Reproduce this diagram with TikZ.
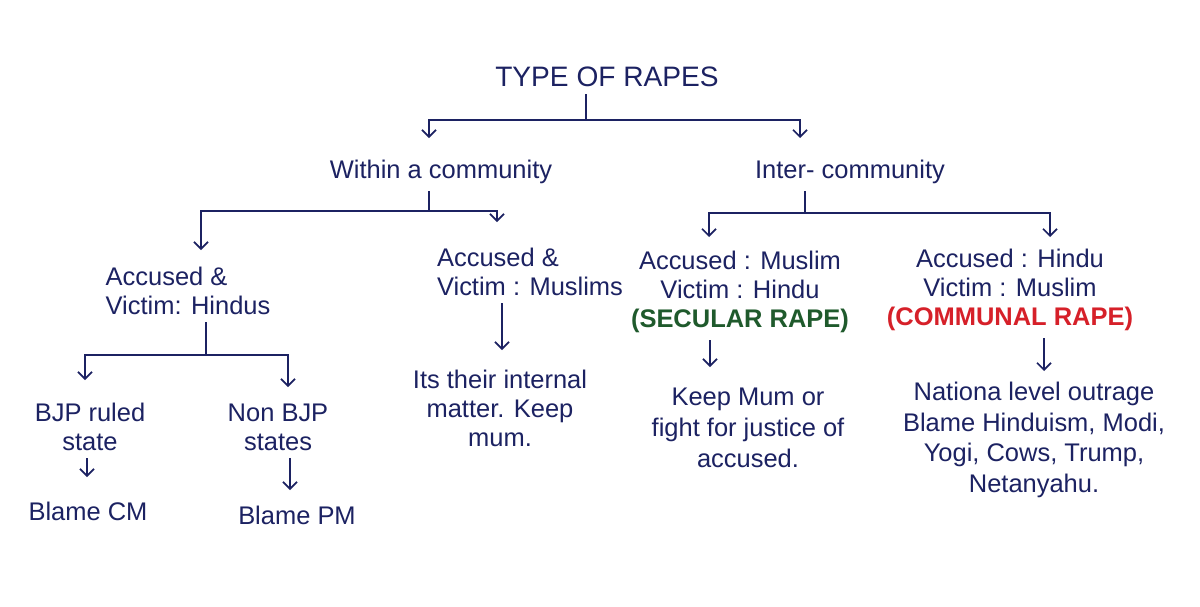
\documentclass[tikz,border=0pt]{standalone}
\usepackage{fontspec}
\setmainfont{Liberation Sans}
\usetikzlibrary{arrows.meta}
\definecolor{ink}{HTML}{1C2262}
\definecolor{secgreen}{HTML}{1F5A2C}
\definecolor{comred}{HTML}{D62029}
\tikzset{
  >={Straight Barb[length=1.4mm,width=2.8mm]},
  ttl/.style={text=ink,font=\fontsize{16}{19}\selectfont,inner sep=1pt},
  lbl/.style={text=ink,font=\fontsize{14.5}{16.5}\selectfont,align=center,inner sep=1pt},
  lbll/.style={lbl,align=left},
  lblw/.style={lbl,font=\fontsize{14.5}{17.5}\selectfont},
  br/.style={draw=ink,line width=1pt},
  arr/.style={br,->},
  stub/.style={br,shorten <=3pt},
}
\begin{document}
\begin{tikzpicture}[x=0.02cm,y=-0.02cm]
  \useasboundingbox[fill=white] (0,0) rectangle (1200,606);
  % labels
  \node[ttl] (type) at (607,77) {TYPE OF RAPES};
  \node[lbl] (within) at (441,172) {Within a community};
  \node[lbl] (inter) at (850,172) {Inter- community};
  \node[lbll] (hindus) at (188,291) {Accused \&\\Victim: Hindus};
  \node[lbll] (muslims) at (530,272) {Accused \&\\Victim : Muslims};
  \node[lbl] (bjp) at (90,427) {BJP ruled\\state};
  \node[lbl] (nonbjp) at (278,427) {Non BJP\\states};
  \node[lbl] (cm) at (88,511) {Blame CM};
  \node[lbl] (pm) at (297,515) {Blame PM};
  \node[lbl] (internal) at (500,408) {Its their internal\\matter. Keep\\mum.};
  \node[lbl] (secular) at (740,292) {Accused : Muslim\\Victim : Hindu\\
    \textcolor{secgreen}{\bfseries (SECULAR RAPE)}};
  \node[lbl] (communal) at (1010,290) {Accused : Hindu\\Victim : Muslim\\
    \textcolor{comred}{\bfseries (COMMUNAL RAPE)}};
  \node[lblw] (keepmum) at (748,428) {Keep Mum or\\fight for justice of\\accused.};
  \node[lblw] (outrage) at (1034,440) {Nationa level outrage\\Blame Hinduism, Modi,\\
    Yogi, Cows, Trump,\\Netanyahu.};
  % junctions and arrow tips
  \coordinate (j0) at (586,120);
  \coordinate (tw) at (429,138);
  \coordinate (ti) at (800,138);
  \coordinate (j1) at (429,211);
  \coordinate (th) at (201,250);
  \coordinate (tm) at (497,222);
  \coordinate (j2) at (805,213);
  \coordinate (tsec) at (709,237);
  \coordinate (tcom) at (1050,237);
  \coordinate (j3) at (206,355);
  \coordinate (tbjp) at (85,380);
  \coordinate (tnon) at (288,387);
  \coordinate (tmus) at (502,350);
  \coordinate (tcm) at (87,477);
  \coordinate (tpm) at (290,490);
  \coordinate (tkeep) at (710,367);
  \coordinate (tout) at (1044,371);
  % branches
  \draw[stub] (type.south -| j0) -- (j0);
  \draw[arr] (j0) -| (tw);
  \draw[arr] (j0) -| (ti);
  \draw[stub] (within.south -| j1) -- (j1);
  \draw[arr] (j1) -| (th);
  \draw[arr] (j1) -| (tm);
  \draw[stub] (inter.south -| j2) -- (j2);
  \draw[arr] (j2) -| (tsec);
  \draw[arr] (j2) -| (tcom);
  \draw[stub] (hindus.south -| j3) -- (j3);
  \draw[arr] (j3) -| (tbjp);
  \draw[arr] (j3) -| (tnon);
  % single arrows
  \draw[arr,shorten <=3pt] (muslims.south -| tmus) -- (tmus);
  \draw[arr,shorten <=3pt] (bjp.south -| tcm) -- (tcm);
  \draw[arr,shorten <=3pt] (nonbjp.south -| tpm) -- (tpm);
  \draw[arr,shorten <=3pt] (secular.south -| tkeep) -- (tkeep);
  \draw[arr,shorten <=3pt] (communal.south -| tout) -- (tout);
\end{tikzpicture}
\end{document}
